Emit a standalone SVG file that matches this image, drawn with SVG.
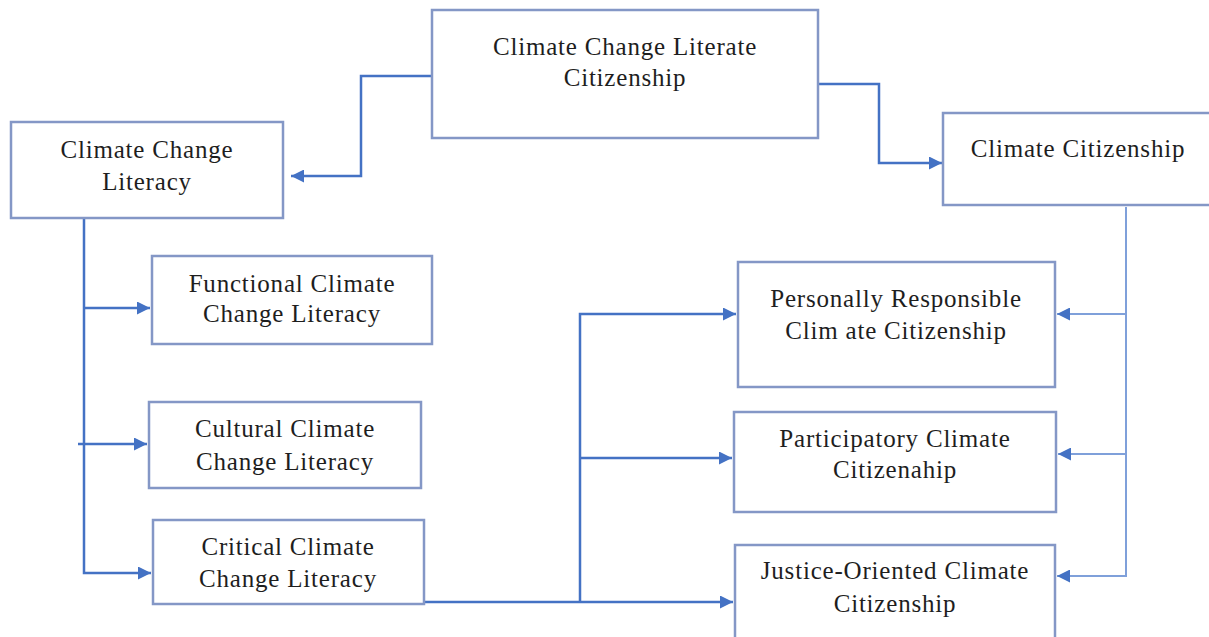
<svg xmlns="http://www.w3.org/2000/svg" width="1209" height="637" viewBox="0 0 1209 637">
  <style>
    .box { fill: #ffffff; stroke: #8497C6; stroke-width: 2.5; }
    .lbl { font-family: "Liberation Serif", "Times New Roman", serif; font-size: 25px; fill: #1e1e1e; text-anchor: middle; letter-spacing: 0.8px; }
    .con { fill: none; stroke: #4472C4; stroke-width: 2.5; }
    .con2 { fill: none; stroke: #7FA0DA; stroke-width: 2; }
  </style>
  <defs>
    <marker id="ah" viewBox="0 0 13 13" refX="13" refY="6.5" markerWidth="13" markerHeight="13" orient="auto" markerUnits="userSpaceOnUse">
      <path d="M0,0 L13,6.5 L0,13 z" fill="#4472C4"/>
    </marker>
  </defs>
  <rect width="1209" height="637" fill="#ffffff"/>

  <g id="connectors">
    <path class="con" d="M432,76 H361 V176 H291" marker-end="url(#ah)"/>
    <path class="con" d="M818,84 H879 V163 H942" marker-end="url(#ah)"/>
    <path class="con" d="M84,218 V573 H151" marker-end="url(#ah)"/>
    <path class="con" d="M84,308 H150" marker-end="url(#ah)"/>
    <path class="con" d="M78,444 H147" marker-end="url(#ah)"/>
    <path class="con" d="M424,602 H733" marker-end="url(#ah)"/>
    <path class="con" d="M580,602 V314 H736" marker-end="url(#ah)"/>
    <path class="con" d="M580,458 H732" marker-end="url(#ah)"/>
    <path class="con2" d="M1126,207 V576 H1057" marker-end="url(#ah)"/>
    <path class="con2" d="M1126,314 H1057" marker-end="url(#ah)"/>
    <path class="con2" d="M1126,454 H1058" marker-end="url(#ah)"/>
  </g>

  <g id="node-literate-citizenship">
    <rect class="box" x="432" y="10" width="386" height="128"/>
    <text class="lbl" x="625" y="55">Climate Change Literate</text>
    <text class="lbl" x="625" y="86">Citizenship</text>
  </g>

  <g id="node-climate-change-literacy">
    <rect class="box" x="11" y="122" width="272" height="96"/>
    <text class="lbl" x="147" y="158">Climate Change</text>
    <text class="lbl" x="147" y="190">Literacy</text>
  </g>

  <g id="node-climate-citizenship">
    <rect class="box" x="943" y="113" width="280" height="92"/>
    <text class="lbl" x="1078" y="157">Climate Citizenship</text>
  </g>

  <g id="node-functional">
    <rect class="box" x="152" y="256" width="280" height="88"/>
    <text class="lbl" x="292" y="292">Functional Climate</text>
    <text class="lbl" x="292" y="322">Change Literacy</text>
  </g>

  <g id="node-cultural">
    <rect class="box" x="149" y="402" width="272" height="86"/>
    <text class="lbl" x="285" y="437">Cultural Climate</text>
    <text class="lbl" x="285" y="470">Change Literacy</text>
  </g>

  <g id="node-critical">
    <rect class="box" x="153" y="520" width="271" height="84"/>
    <text class="lbl" x="288" y="555">Critical Climate</text>
    <text class="lbl" x="288" y="587">Change Literacy</text>
  </g>

  <g id="node-personally-responsible">
    <rect class="box" x="738" y="262" width="317" height="125"/>
    <text class="lbl" x="896" y="307">Personally Responsible</text>
    <text class="lbl" x="896" y="339">Clim ate Citizenship</text>
  </g>

  <g id="node-participatory">
    <rect class="box" x="734" y="412" width="322" height="100"/>
    <text class="lbl" x="895" y="447">Participatory Climate</text>
    <text class="lbl" x="895" y="478">Citizenahip</text>
  </g>

  <g id="node-justice-oriented">
    <rect class="box" x="735" y="545" width="320" height="100"/>
    <text class="lbl" x="895" y="579">Justice-Oriented Climate</text>
    <text class="lbl" x="895" y="612">Citizenship</text>
  </g>
</svg>
